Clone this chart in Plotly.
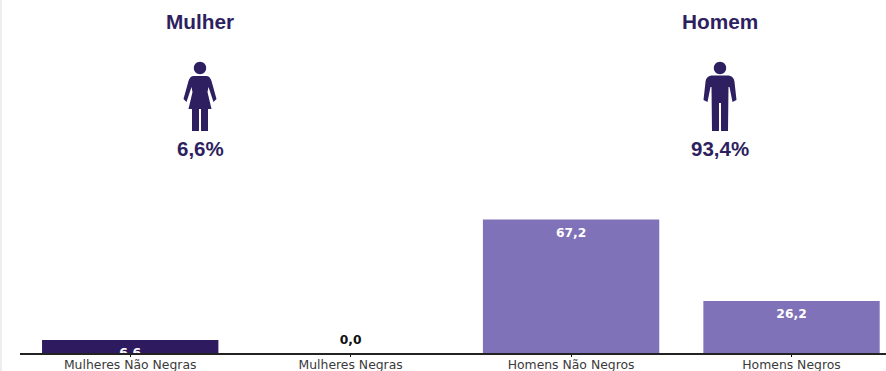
import plotly.graph_objects as go

# Share of the group by gender and race
categories = ["Mulheres Não Negras", "Mulheres Negras", "Homens Não Negros", "Homens Negros"]
values = [6.6, 0.0, 67.2, 26.2]
bar_colors = ["#2e1b5f", "#2e1b5f", "#8072b8", "#8072b8"]
label_colors = ["#ffffff", "#111111", "#ffffff", "#ffffff"]

gender_titles = ["Mulher", "Homem"]
gender_shares = [6.6, 93.4]
gender_centers = [200, 720]

W, H = 886, 371
LEFT, BOTTOM = 20, 18
INK = "#2e1f60"
LABEL_DROP = 4.0   # how far, in axis units, labels sit below the top of a bar
ZERO_LIFT = 3.0    # how far the label of an empty bar floats above the axis


def pct(v):
    return f"{v:.1f}".replace(".", ",")


def px(x):
    return (x - LEFT) / (W - LEFT)


def py(y):
    return ((H - BOTTOM) - y) / (H - BOTTOM)


def icon_path(cx, commands):
    # Commands hold offsets from the icon's centre line, in screen pixels
    out = []
    for c in commands:
        if isinstance(c, str):
            out.append(c)
        else:
            out.append(f"{px(cx + c[0]):.5f},{py(c[1]):.5f}")
    return " ".join(out)


def head(cx):
    r = 6.2
    y = 68
    k = r * 0.55
    return icon_path(cx, [
        "M", (-r, y),
        "C", (-r, y - k), (-k, y - r), (0, y - r),
        "C", (k, y - r), (r, y - k), (r, y),
        "C", (r, y + k), (k, y + r), (0, y + r),
        "C", (-k, y + r), (-r, y + k), (-r, y), "Z",
    ])


WOMAN = [
    "M", (-6, 76), "L", (6, 76),
    "C", (9, 76), (10.5, 78), (11.5, 81),
    "L", (16.5, 99), "L", (13.5, 102), "L", (8.5, 87),
    "L", (7.5, 92), "L", (11.5, 109), "L", (8, 109), "L", (8, 131), "L", (1, 131), "L", (1, 109),
    "L", (-1, 109), "L", (-1, 131), "L", (-8, 131), "L", (-8, 109), "L", (-11.5, 109),
    "L", (-7.5, 92), "L", (-8.5, 87), "L", (-13.5, 102), "L", (-16.5, 99), "L", (-11.5, 81),
    "C", (-10.5, 78), (-9, 76), (-6, 76), "Z",
]

MAN = [
    "M", (-7, 75.5), "L", (7, 75.5),
    "C", (12, 75.5), (14, 78), (14.5, 82),
    "L", (16.5, 100), "L", (12.5, 102), "L", (9.5, 87),
    "L", (8.5, 87), "L", (8, 131), "L", (1, 131), "L", (1, 103),
    "L", (-1, 103), "L", (-1, 131), "L", (-8, 131), "L", (-8.5, 87), "L", (-9.5, 87),
    "L", (-12.5, 102), "L", (-16.5, 100), "L", (-14.5, 82),
    "C", (-14, 78), (-12, 75.5), (-7, 75.5), "Z",
]

fig = go.Figure()

fig.add_trace(go.Bar(
    x=list(range(len(categories))),
    y=values,
    width=0.8,
    marker=dict(color=bar_colors, line=dict(width=0)),
    hoverinfo="skip",
))

# Value labels: white inside the bars, dark above an empty bar; clipped at the axis
fig.add_trace(go.Scatter(
    x=list(range(len(categories))),
    y=[ZERO_LIFT if v == 0 else v - LABEL_DROP for v in values],
    mode="text",
    text=[pct(v) for v in values],
    textposition=["top center" if v == 0 else "bottom center" for v in values],
    textfont=dict(family="DejaVu Sans", size=12.3, color=label_colors, weight="bold"),
    cliponaxis=True,
    hoverinfo="skip",
))

shapes = [
    dict(type="path", xref="paper", yref="paper", layer="above",
         path=path, fillcolor=INK, line=dict(width=0))
    for cx, body in zip(gender_centers, [WOMAN, MAN])
    for path in (head(cx), icon_path(cx, body))
]
# Thin pale rule down the left edge of the panel
shapes.append(dict(type="rect", xref="paper", yref="paper", layer="below",
                   x0=px(0), x1=px(2), y0=py(H), y1=py(0),
                   fillcolor="#eeeef2", line=dict(width=0)))

annotations = []
for cx, title, share in zip(gender_centers, gender_titles, gender_shares):
    annotations.append(dict(
        xref="paper", yref="paper", x=px(cx), y=py(22), text=title, showarrow=False,
        font=dict(family="Liberation Sans", size=20.8, color=INK, weight="bold"),
        xanchor="center", yanchor="middle",
    ))
    annotations.append(dict(
        xref="paper", yref="paper", x=px(cx), y=py(148), text=f"{pct(share)}%", showarrow=False,
        font=dict(family="Liberation Sans", size=20.5, color=INK, weight="bold"),
        xanchor="center", yanchor="middle",
    ))

fig.update_layout(
    width=W,
    height=H,
    margin=dict(l=LEFT, r=0, t=0, b=BOTTOM),
    paper_bgcolor="white",
    plot_bgcolor="white",
    showlegend=False,
    shapes=shapes,
    annotations=annotations,
    xaxis=dict(
        range=[-0.5, 3.4286],
        tickmode="array",
        tickvals=list(range(len(categories))),
        ticktext=categories,
        ticks="outside",
        ticklen=2,
        tickwidth=1,
        tickcolor="#111111",
        tickfont=dict(family="DejaVu Sans", size=12.4, color="#3a3a3a"),
        ticklabelstandoff=-3,
        showline=True,
        linecolor="#222222",
        linewidth=1.5,
        showgrid=False,
        zeroline=False,
        automargin=False,
    ),
    yaxis=dict(range=[0, 177.6], visible=False),
)

fig.write_html("out.html")
